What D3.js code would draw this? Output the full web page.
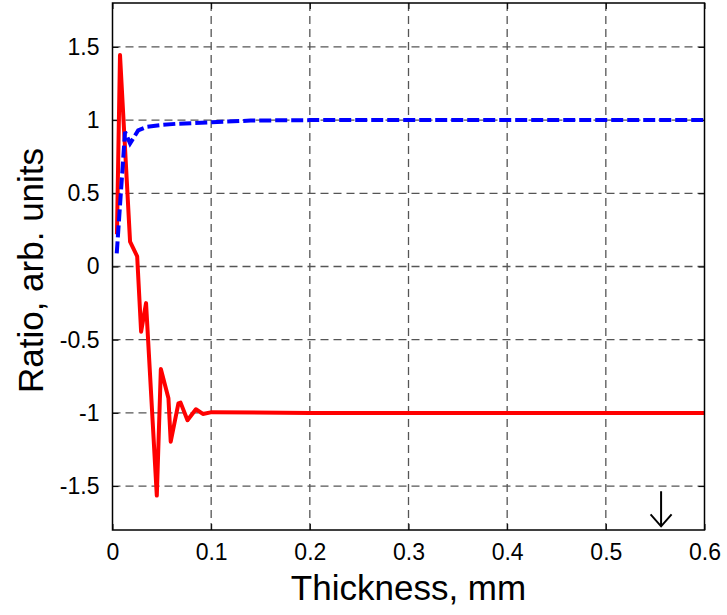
<!DOCTYPE html>
<html>
<head>
<meta charset="utf-8">
<script src="https://cdn.jsdelivr.net/npm/d3@7/dist/d3.min.js"></script>
<style>
  html, body { margin: 0; padding: 0; background: #fff; }
  svg { display: block; }
  text { font-family: "Liberation Sans", Arial, sans-serif; fill: #000; }
</style>
</head>
<body>
<svg id="chart" width="727" height="615"></svg>
<script>
// ---- data ----
const xTicks = [0, 0.1, 0.2, 0.3, 0.4, 0.5, 0.6];
const yTicks = [-1.5, -1, -0.5, 0, 0.5, 1, 1.5];
const yTickLabels = ["-1.5", "-1", "-0.5", "0", "0.5", "1", "1.5"];
const xTickLabels = ["0", "0.1", "0.2", "0.3", "0.4", "0.5", "0.6"];

// red solid series
const redX = [0.0045, 0.0076, 0.0178, 0.025, 0.029, 0.034, 0.0449, 0.049, 0.0567, 0.059, 0.0668, 0.069, 0.076, 0.0845, 0.0916, 0.1007, 0.2, 0.3, 0.4, 0.5, 0.6];
const redY = [0.22, 1.445, 0.17, 0.07, -0.445, -0.25, -1.565, -0.70, -0.90, -1.197, -0.935, -0.93, -1.05, -0.975, -1.007, -0.995, -1.0, -1.0, -1.0, -1.0, -1.0];

// blue dashed series
const blueX = [0.0043, 0.0127, 0.0178, 0.026, 0.035, 0.05, 0.065, 0.1, 0.14, 0.2, 0.3, 0.4, 0.5, 0.6];
const blueY = [0.09, 0.92, 0.84, 0.93, 0.955, 0.967, 0.975, 0.985, 0.997, 1.0, 1.0, 1.0, 1.0, 1.0];

// arrow annotation position (data coords of the arrow tip)
const arrowX = 0.556;
const arrowY = -1.775;

// ---- layout ----
const L = 112.5, R = 704.5, T = 3, B = 530;
const svg = d3.select("#chart");
const x = d3.scaleLinear().domain([0, 0.6]).range([L, R]);
const y = d3.scaleLinear().domain([-1.8, 1.8]).range([B, T]);

// grid
const grid = svg.append("g");
grid.selectAll(".vg").data(xTicks.slice(1, -1)).enter().append("line")
  .attr("x1", d => x(d)).attr("x2", d => x(d)).attr("y1", T).attr("y2", B)
  .attr("stroke", "#555").attr("stroke-width", 1.3).attr("stroke-dasharray", "8,5");
grid.selectAll(".hg").data(yTicks).enter().append("line")
  .attr("x1", L).attr("x2", R).attr("y1", d => y(d)).attr("y2", d => y(d))
  .attr("stroke", "#555").attr("stroke-width", 1.3).attr("stroke-dasharray", "8,5");

// axes with inward ticks
const tl = 6;
const styleText = g => g.selectAll("text").attr("font-size", 23)
  .attr("font-family", "Liberation Sans, Arial, sans-serif").attr("fill", "#000");
svg.append("g").attr("transform", `translate(0,${B})`)
  .call(d3.axisBottom(x).tickValues(xTicks).tickSize(-tl).tickPadding(14).tickFormat((d, i) => xTickLabels[i]))
  .call(g => { g.select(".domain").remove(); g.selectAll("line").attr("stroke", "#000"); styleText(g); });
svg.append("g").attr("transform", `translate(${L},0)`)
  .call(d3.axisLeft(y).tickValues(yTicks).tickSize(-tl).tickPadding(13).tickFormat((d, i) => yTickLabels[i]))
  .call(g => { g.select(".domain").remove(); g.selectAll("line").attr("stroke", "#000"); styleText(g); });
svg.append("g").attr("transform", `translate(0,${T})`)
  .call(d3.axisTop(x).tickValues(xTicks).tickSize(-tl).tickFormat(""))
  .call(g => { g.select(".domain").remove(); g.selectAll("line").attr("stroke", "#000"); });
svg.append("g").attr("transform", `translate(${R},0)`)
  .call(d3.axisRight(y).tickValues(yTicks).tickSize(-tl).tickFormat(""))
  .call(g => { g.select(".domain").remove(); g.selectAll("line").attr("stroke", "#000"); });

// lines
const line = d3.line().x(d => x(d[0])).y(d => y(d[1]));
svg.append("path").datum(redX.map((v, i) => [v, redY[i]]))
  .attr("d", line).attr("fill", "none").attr("stroke", "#ff0000").attr("stroke-width", 4)
  .attr("stroke-linejoin", "round");
svg.append("path").datum(blueX.map((v, i) => [v, blueY[i]]))
  .attr("d", line).attr("fill", "none").attr("stroke", "#0000ff").attr("stroke-width", 4)
  .attr("stroke-dasharray", "12,4");

// frame
svg.append("rect").attr("x", L).attr("y", T).attr("width", R - L).attr("height", B - T)
  .attr("fill", "none").attr("stroke", "#000").attr("stroke-width", 1.5);

// arrow annotation (down arrow)
const ax = x(arrowX), ay = y(arrowY);
svg.append("path")
  .attr("d", `M${ax},${ay - 35}L${ax},${ay}M${ax - 10.5},${ay - 12}L${ax},${ay}L${ax + 10.5},${ay - 12}`)
  .attr("fill", "none").attr("stroke", "#000").attr("stroke-width", 2);

// axis titles
svg.append("text").attr("x", (L + R) / 2).attr("y", 600).attr("text-anchor", "middle")
  .attr("font-size", 35).text("Thickness, mm");
svg.append("text").attr("transform", `translate(43,${(T + B) / 2 + 4}) rotate(-90)`)
  .attr("text-anchor", "middle").attr("font-size", 35).text("Ratio, arb. units");
</script>
</body>
</html>
